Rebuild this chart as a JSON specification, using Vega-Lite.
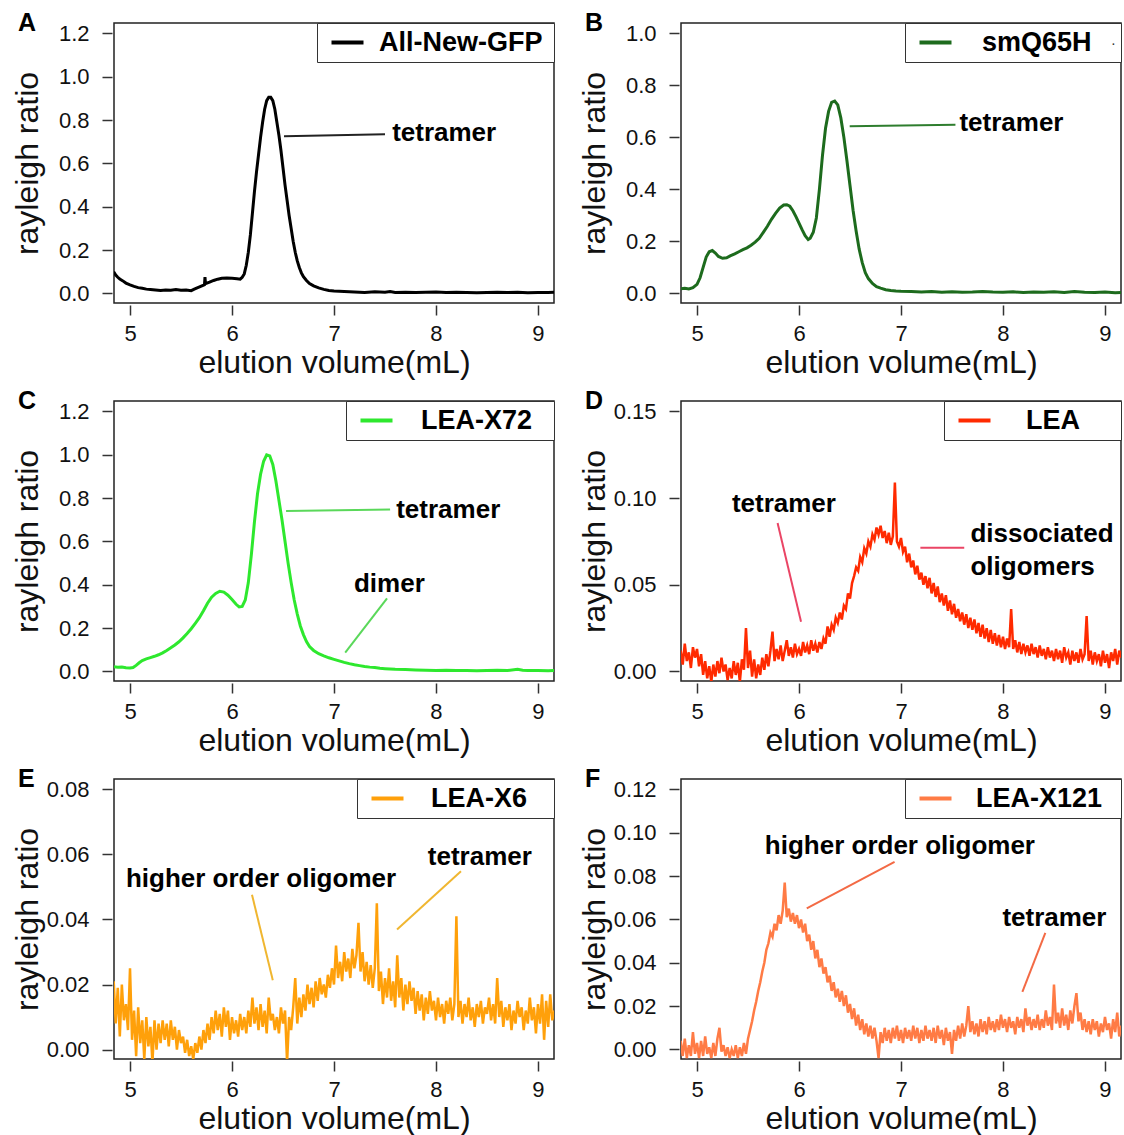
{
"$schema":"https://vega.github.io/schema/vega-lite/v6.json",
"background":"white",
"padding":{"left":10,"top":10,"right":2,"bottom":0},
"columns":2,
"spacing":{"row":98,"column":127},
"bounds":"flush",
"resolve":{"scale":{"color":"independent"},"legend":{"color":"independent"}},
"datasets":{
"A":[{"x":4.84,"y":0.100},{"x":4.86,"y":0.085},{"x":4.88,"y":0.075},{"x":4.9,"y":0.066},{"x":4.93,"y":0.058},{"x":4.96,"y":0.048},{"x":5.0,"y":0.040},{"x":5.04,"y":0.033},{"x":5.08,"y":0.027},{"x":5.12,"y":0.024},{"x":5.16,"y":0.020},{"x":5.2,"y":0.018},{"x":5.25,"y":0.016},{"x":5.3,"y":0.014},{"x":5.35,"y":0.016},{"x":5.4,"y":0.015},{"x":5.45,"y":0.018},{"x":5.5,"y":0.015},{"x":5.55,"y":0.016},{"x":5.6,"y":0.013},{"x":5.63,"y":0.020},{"x":5.67,"y":0.028},{"x":5.71,"y":0.036},{"x":5.73,"y":0.040},{"x":5.735,"y":0.075},{"x":5.74,"y":0.045},{"x":5.78,"y":0.052},{"x":5.82,"y":0.060},{"x":5.86,"y":0.066},{"x":5.9,"y":0.070},{"x":5.95,"y":0.071},{"x":6.0,"y":0.070},{"x":6.05,"y":0.068},{"x":6.08,"y":0.066},{"x":6.1,"y":0.075},{"x":6.12,"y":0.09},{"x":6.14,"y":0.13},{"x":6.16,"y":0.19},{"x":6.18,"y":0.27},{"x":6.2,"y":0.37},{"x":6.22,"y":0.47},{"x":6.24,"y":0.56},{"x":6.26,"y":0.64},{"x":6.28,"y":0.72},{"x":6.3,"y":0.79},{"x":6.32,"y":0.85},{"x":6.34,"y":0.89},{"x":6.36,"y":0.905},{"x":6.38,"y":0.905},{"x":6.4,"y":0.89},{"x":6.42,"y":0.85},{"x":6.44,"y":0.79},{"x":6.46,"y":0.73},{"x":6.48,"y":0.66},{"x":6.5,"y":0.58},{"x":6.52,"y":0.50},{"x":6.54,"y":0.43},{"x":6.56,"y":0.36},{"x":6.58,"y":0.30},{"x":6.6,"y":0.24},{"x":6.62,"y":0.19},{"x":6.64,"y":0.15},{"x":6.66,"y":0.12},{"x":6.68,"y":0.095},{"x":6.7,"y":0.078},{"x":6.73,"y":0.06},{"x":6.76,"y":0.046},{"x":6.8,"y":0.035},{"x":6.85,"y":0.026},{"x":6.9,"y":0.019},{"x":6.95,"y":0.014},{"x":7.0,"y":0.011},{"x":7.1,"y":0.009},{"x":7.2,"y":0.007},{"x":7.3,"y":0.005},{"x":7.4,"y":0.008},{"x":7.5,"y":0.006},{"x":7.55,"y":0.009},{"x":7.6,"y":0.005},{"x":7.7,"y":0.006},{"x":7.8,"y":0.004},{"x":7.9,"y":0.006},{"x":8.0,"y":0.007},{"x":8.1,"y":0.004},{"x":8.2,"y":0.006},{"x":8.3,"y":0.005},{"x":8.4,"y":0.003},{"x":8.5,"y":0.005},{"x":8.6,"y":0.006},{"x":8.7,"y":0.004},{"x":8.8,"y":0.006},{"x":8.9,"y":0.003},{"x":9.0,"y":0.005},{"x":9.1,"y":0.004},{"x":9.16,"y":0.006}],
"B":[{"x":4.84,"y":0.018},{"x":4.88,"y":0.020},{"x":4.92,"y":0.017},{"x":4.96,"y":0.022},{"x":5.0,"y":0.035},{"x":5.03,"y":0.060},{"x":5.06,"y":0.100},{"x":5.09,"y":0.140},{"x":5.12,"y":0.160},{"x":5.15,"y":0.165},{"x":5.18,"y":0.155},{"x":5.21,"y":0.142},{"x":5.25,"y":0.135},{"x":5.29,"y":0.137},{"x":5.33,"y":0.145},{"x":5.37,"y":0.152},{"x":5.41,"y":0.160},{"x":5.45,"y":0.168},{"x":5.49,"y":0.175},{"x":5.53,"y":0.185},{"x":5.57,"y":0.197},{"x":5.61,"y":0.212},{"x":5.65,"y":0.235},{"x":5.69,"y":0.258},{"x":5.73,"y":0.285},{"x":5.77,"y":0.308},{"x":5.81,"y":0.328},{"x":5.85,"y":0.340},{"x":5.88,"y":0.341},{"x":5.91,"y":0.335},{"x":5.94,"y":0.318},{"x":5.97,"y":0.295},{"x":6.0,"y":0.270},{"x":6.03,"y":0.245},{"x":6.06,"y":0.222},{"x":6.09,"y":0.207},{"x":6.11,"y":0.212},{"x":6.14,"y":0.235},{"x":6.17,"y":0.290},{"x":6.2,"y":0.400},{"x":6.23,"y":0.530},{"x":6.26,"y":0.635},{"x":6.29,"y":0.700},{"x":6.32,"y":0.735},{"x":6.35,"y":0.740},{"x":6.38,"y":0.725},{"x":6.41,"y":0.675},{"x":6.44,"y":0.600},{"x":6.47,"y":0.510},{"x":6.5,"y":0.415},{"x":6.53,"y":0.320},{"x":6.56,"y":0.240},{"x":6.59,"y":0.170},{"x":6.62,"y":0.118},{"x":6.65,"y":0.080},{"x":6.68,"y":0.057},{"x":6.72,"y":0.038},{"x":6.76,"y":0.026},{"x":6.8,"y":0.020},{"x":6.85,"y":0.014},{"x":6.9,"y":0.011},{"x":6.95,"y":0.009},{"x":7.0,"y":0.008},{"x":7.1,"y":0.007},{"x":7.2,"y":0.005},{"x":7.3,"y":0.007},{"x":7.4,"y":0.004},{"x":7.5,"y":0.006},{"x":7.6,"y":0.004},{"x":7.7,"y":0.005},{"x":7.8,"y":0.007},{"x":7.9,"y":0.005},{"x":8.0,"y":0.004},{"x":8.1,"y":0.006},{"x":8.2,"y":0.003},{"x":8.3,"y":0.005},{"x":8.4,"y":0.004},{"x":8.5,"y":0.006},{"x":8.6,"y":0.003},{"x":8.7,"y":0.007},{"x":8.8,"y":0.004},{"x":8.9,"y":0.003},{"x":9.0,"y":0.005},{"x":9.1,"y":0.002},{"x":9.16,"y":0.003}],
"C":[{"x":4.84,"y":0.022},{"x":4.88,"y":0.020},{"x":4.92,"y":0.021},{"x":4.96,"y":0.017},{"x":5.0,"y":0.016},{"x":5.03,"y":0.018},{"x":5.06,"y":0.028},{"x":5.09,"y":0.040},{"x":5.12,"y":0.050},{"x":5.16,"y":0.058},{"x":5.2,"y":0.064},{"x":5.24,"y":0.070},{"x":5.28,"y":0.077},{"x":5.32,"y":0.086},{"x":5.36,"y":0.097},{"x":5.4,"y":0.109},{"x":5.44,"y":0.122},{"x":5.48,"y":0.137},{"x":5.52,"y":0.155},{"x":5.56,"y":0.175},{"x":5.6,"y":0.197},{"x":5.64,"y":0.222},{"x":5.68,"y":0.248},{"x":5.72,"y":0.280},{"x":5.76,"y":0.315},{"x":5.8,"y":0.343},{"x":5.84,"y":0.360},{"x":5.88,"y":0.370},{"x":5.92,"y":0.366},{"x":5.96,"y":0.352},{"x":6.0,"y":0.332},{"x":6.04,"y":0.310},{"x":6.07,"y":0.298},{"x":6.1,"y":0.300},{"x":6.13,"y":0.330},{"x":6.16,"y":0.410},{"x":6.19,"y":0.540},{"x":6.22,"y":0.690},{"x":6.25,"y":0.820},{"x":6.28,"y":0.910},{"x":6.31,"y":0.970},{"x":6.34,"y":1.0},{"x":6.37,"y":0.995},{"x":6.4,"y":0.955},{"x":6.43,"y":0.880},{"x":6.46,"y":0.790},{"x":6.49,"y":0.700},{"x":6.52,"y":0.600},{"x":6.55,"y":0.500},{"x":6.58,"y":0.410},{"x":6.61,"y":0.330},{"x":6.64,"y":0.265},{"x":6.67,"y":0.210},{"x":6.7,"y":0.170},{"x":6.73,"y":0.138},{"x":6.76,"y":0.115},{"x":6.8,"y":0.097},{"x":6.85,"y":0.082},{"x":6.9,"y":0.072},{"x":6.95,"y":0.063},{"x":7.0,"y":0.056},{"x":7.05,"y":0.049},{"x":7.1,"y":0.042},{"x":7.15,"y":0.036},{"x":7.2,"y":0.031},{"x":7.25,"y":0.027},{"x":7.3,"y":0.023},{"x":7.35,"y":0.020},{"x":7.4,"y":0.018},{"x":7.45,"y":0.015},{"x":7.5,"y":0.013},{"x":7.6,"y":0.010},{"x":7.7,"y":0.009},{"x":7.8,"y":0.007},{"x":7.9,"y":0.006},{"x":8.0,"y":0.005},{"x":8.1,"y":0.006},{"x":8.2,"y":0.004},{"x":8.3,"y":0.005},{"x":8.4,"y":0.003},{"x":8.5,"y":0.005},{"x":8.6,"y":0.006},{"x":8.7,"y":0.004},{"x":8.8,"y":0.010},{"x":8.85,"y":0.006},{"x":8.9,"y":0.004},{"x":9.0,"y":0.005},{"x":9.1,"y":0.003},{"x":9.16,"y":0.004}],
"D":[{"x":4.84,"y":0.012},{"x":4.86,"y":0.004},{"x":4.88,"y":0.016},{"x":4.90,"y":0.006},{"x":4.92,"y":0.011},{"x":4.94,"y":0.002},{"x":4.96,"y":0.014},{"x":4.98,"y":0.008},{"x":5.00,"y":0.013},{"x":5.02,"y":0.003},{"x":5.04,"y":0.010},{"x":5.06,"y":-0.002},{"x":5.08,"y":0.006},{"x":5.10,"y":-0.004},{"x":5.12,"y":0.003},{"x":5.14,"y":-0.006},{"x":5.16,"y":0.004},{"x":5.18,"y":-0.003},{"x":5.20,"y":0.006},{"x":5.22,"y":-0.001},{"x":5.24,"y":0.008},{"x":5.26,"y":0.000},{"x":5.28,"y":0.004},{"x":5.30,"y":-0.005},{"x":5.32,"y":0.002},{"x":5.34,"y":-0.004},{"x":5.36,"y":0.006},{"x":5.38,"y":-0.002},{"x":5.40,"y":0.005},{"x":5.42,"y":-0.006},{"x":5.44,"y":0.007},{"x":5.46,"y":0.001},{"x":5.48,"y":0.025},{"x":5.50,"y":0.002},{"x":5.52,"y":0.012},{"x":5.54,"y":-0.003},{"x":5.56,"y":0.007},{"x":5.58,"y":-0.004},{"x":5.60,"y":0.004},{"x":5.62,"y":-0.002},{"x":5.64,"y":0.008},{"x":5.66,"y":0.001},{"x":5.68,"y":0.010},{"x":5.70,"y":0.003},{"x":5.72,"y":0.012},{"x":5.74,"y":0.023},{"x":5.76,"y":0.006},{"x":5.78,"y":0.013},{"x":5.80,"y":0.007},{"x":5.82,"y":0.015},{"x":5.84,"y":0.006},{"x":5.86,"y":0.012},{"x":5.88,"y":0.018},{"x":5.90,"y":0.009},{"x":5.92,"y":0.014},{"x":5.94,"y":0.008},{"x":5.96,"y":0.016},{"x":5.98,"y":0.010},{"x":6.00,"y":0.013},{"x":6.02,"y":0.009},{"x":6.04,"y":0.017},{"x":6.06,"y":0.011},{"x":6.08,"y":0.015},{"x":6.10,"y":0.010},{"x":6.12,"y":0.018},{"x":6.14,"y":0.012},{"x":6.16,"y":0.016},{"x":6.18,"y":0.011},{"x":6.20,"y":0.017},{"x":6.22,"y":0.013},{"x":6.24,"y":0.019},{"x":6.26,"y":0.016},{"x":6.28,"y":0.026},{"x":6.30,"y":0.020},{"x":6.32,"y":0.027},{"x":6.34,"y":0.024},{"x":6.36,"y":0.031},{"x":6.38,"y":0.028},{"x":6.40,"y":0.034},{"x":6.42,"y":0.030},{"x":6.44,"y":0.038},{"x":6.46,"y":0.036},{"x":6.48,"y":0.045},{"x":6.50,"y":0.042},{"x":6.52,"y":0.051},{"x":6.54,"y":0.055},{"x":6.56,"y":0.060},{"x":6.58,"y":0.058},{"x":6.60,"y":0.066},{"x":6.62,"y":0.063},{"x":6.64,"y":0.071},{"x":6.66,"y":0.068},{"x":6.68,"y":0.075},{"x":6.70,"y":0.072},{"x":6.72,"y":0.079},{"x":6.74,"y":0.076},{"x":6.76,"y":0.083},{"x":6.78,"y":0.079},{"x":6.80,"y":0.084},{"x":6.82,"y":0.077},{"x":6.84,"y":0.081},{"x":6.86,"y":0.074},{"x":6.88,"y":0.080},{"x":6.90,"y":0.073},{"x":6.92,"y":0.078},{"x":6.94,"y":0.109},{"x":6.96,"y":0.075},{"x":6.98,"y":0.072},{"x":7.00,"y":0.077},{"x":7.02,"y":0.069},{"x":7.04,"y":0.072},{"x":7.06,"y":0.063},{"x":7.08,"y":0.068},{"x":7.10,"y":0.060},{"x":7.12,"y":0.064},{"x":7.14,"y":0.056},{"x":7.16,"y":0.061},{"x":7.18,"y":0.053},{"x":7.20,"y":0.057},{"x":7.22,"y":0.050},{"x":7.24,"y":0.055},{"x":7.26,"y":0.048},{"x":7.28,"y":0.054},{"x":7.30,"y":0.045},{"x":7.32,"y":0.051},{"x":7.34,"y":0.043},{"x":7.36,"y":0.049},{"x":7.38,"y":0.040},{"x":7.40,"y":0.045},{"x":7.42,"y":0.038},{"x":7.44,"y":0.044},{"x":7.46,"y":0.035},{"x":7.48,"y":0.041},{"x":7.50,"y":0.033},{"x":7.52,"y":0.039},{"x":7.54,"y":0.031},{"x":7.56,"y":0.036},{"x":7.58,"y":0.029},{"x":7.60,"y":0.034},{"x":7.62,"y":0.027},{"x":7.64,"y":0.033},{"x":7.66,"y":0.025},{"x":7.68,"y":0.031},{"x":7.70,"y":0.024},{"x":7.72,"y":0.030},{"x":7.74,"y":0.022},{"x":7.76,"y":0.028},{"x":7.78,"y":0.020},{"x":7.80,"y":0.027},{"x":7.82,"y":0.019},{"x":7.84,"y":0.025},{"x":7.86,"y":0.017},{"x":7.88,"y":0.024},{"x":7.90,"y":0.016},{"x":7.92,"y":0.022},{"x":7.94,"y":0.015},{"x":7.96,"y":0.021},{"x":7.98,"y":0.014},{"x":8.00,"y":0.020},{"x":8.02,"y":0.013},{"x":8.04,"y":0.019},{"x":8.06,"y":0.014},{"x":8.08,"y":0.036},{"x":8.10,"y":0.013},{"x":8.12,"y":0.018},{"x":8.14,"y":0.011},{"x":8.16,"y":0.017},{"x":8.18,"y":0.010},{"x":8.20,"y":0.016},{"x":8.22,"y":0.011},{"x":8.24,"y":0.015},{"x":8.26,"y":0.009},{"x":8.28,"y":0.016},{"x":8.30,"y":0.010},{"x":8.32,"y":0.014},{"x":8.34,"y":0.008},{"x":8.36,"y":0.015},{"x":8.38,"y":0.009},{"x":8.40,"y":0.013},{"x":8.42,"y":0.007},{"x":8.44,"y":0.014},{"x":8.46,"y":0.008},{"x":8.48,"y":0.012},{"x":8.50,"y":0.006},{"x":8.52,"y":0.013},{"x":8.54,"y":0.007},{"x":8.56,"y":0.012},{"x":8.58,"y":0.005},{"x":8.60,"y":0.014},{"x":8.62,"y":0.008},{"x":8.64,"y":0.011},{"x":8.66,"y":0.004},{"x":8.68,"y":0.012},{"x":8.70,"y":0.006},{"x":8.72,"y":0.011},{"x":8.74,"y":0.005},{"x":8.76,"y":0.013},{"x":8.78,"y":0.007},{"x":8.80,"y":0.010},{"x":8.82,"y":0.032},{"x":8.84,"y":0.006},{"x":8.86,"y":0.012},{"x":8.88,"y":0.004},{"x":8.90,"y":0.011},{"x":8.92,"y":0.006},{"x":8.94,"y":0.010},{"x":8.96,"y":0.003},{"x":8.98,"y":0.012},{"x":9.00,"y":0.005},{"x":9.02,"y":0.010},{"x":9.04,"y":0.002},{"x":9.06,"y":0.011},{"x":9.08,"y":0.006},{"x":9.10,"y":0.013},{"x":9.12,"y":0.004},{"x":9.14,"y":0.012},{"x":9.16,"y":0.008}],
"E":[{"x":4.84,"y":0.021},{"x":4.86,"y":0.008},{"x":4.88,"y":0.019},{"x":4.90,"y":0.004},{"x":4.92,"y":0.020},{"x":4.94,"y":0.009},{"x":4.96,"y":0.014},{"x":4.98,"y":0.006},{"x":5.00,"y":0.025},{"x":5.02,"y":0.003},{"x":5.04,"y":0.012},{"x":5.06,"y":-0.002},{"x":5.08,"y":0.013},{"x":5.10,"y":0.002},{"x":5.12,"y":0.009},{"x":5.14,"y":-0.003},{"x":5.16,"y":0.010},{"x":5.18,"y":0.001},{"x":5.20,"y":0.007},{"x":5.22,"y":-0.004},{"x":5.24,"y":0.009},{"x":5.26,"y":0.000},{"x":5.28,"y":0.008},{"x":5.30,"y":0.002},{"x":5.32,"y":0.009},{"x":5.34,"y":0.003},{"x":5.36,"y":0.008},{"x":5.38,"y":0.001},{"x":5.40,"y":0.009},{"x":5.42,"y":0.003},{"x":5.44,"y":0.007},{"x":5.46,"y":0.000},{"x":5.48,"y":0.006},{"x":5.50,"y":0.002},{"x":5.52,"y":0.004},{"x":5.54,"y":-0.001},{"x":5.56,"y":0.003},{"x":5.58,"y":-0.002},{"x":5.60,"y":0.001},{"x":5.62,"y":-0.003},{"x":5.64,"y":0.002},{"x":5.66,"y":-0.001},{"x":5.68,"y":0.004},{"x":5.70,"y":0.000},{"x":5.72,"y":0.006},{"x":5.74,"y":0.002},{"x":5.76,"y":0.008},{"x":5.78,"y":0.003},{"x":5.80,"y":0.010},{"x":5.82,"y":0.005},{"x":5.84,"y":0.012},{"x":5.86,"y":0.006},{"x":5.88,"y":0.011},{"x":5.90,"y":0.004},{"x":5.92,"y":0.013},{"x":5.94,"y":0.007},{"x":5.96,"y":0.012},{"x":5.98,"y":0.003},{"x":6.00,"y":0.010},{"x":6.02,"y":0.005},{"x":6.04,"y":0.009},{"x":6.06,"y":0.004},{"x":6.08,"y":0.011},{"x":6.10,"y":0.006},{"x":6.12,"y":0.010},{"x":6.14,"y":0.005},{"x":6.16,"y":0.012},{"x":6.18,"y":0.007},{"x":6.20,"y":0.016},{"x":6.22,"y":0.008},{"x":6.24,"y":0.013},{"x":6.26,"y":0.006},{"x":6.28,"y":0.014},{"x":6.30,"y":0.007},{"x":6.32,"y":0.012},{"x":6.34,"y":0.005},{"x":6.36,"y":0.016},{"x":6.38,"y":0.009},{"x":6.40,"y":0.011},{"x":6.42,"y":0.006},{"x":6.44,"y":0.010},{"x":6.46,"y":0.005},{"x":6.48,"y":0.013},{"x":6.50,"y":0.008},{"x":6.52,"y":0.012},{"x":6.54,"y":-0.004},{"x":6.56,"y":0.010},{"x":6.58,"y":0.006},{"x":6.60,"y":0.013},{"x":6.62,"y":0.022},{"x":6.64,"y":0.008},{"x":6.66,"y":0.016},{"x":6.68,"y":0.010},{"x":6.70,"y":0.017},{"x":6.72,"y":0.012},{"x":6.74,"y":0.020},{"x":6.76,"y":0.014},{"x":6.78,"y":0.019},{"x":6.80,"y":0.013},{"x":6.82,"y":0.021},{"x":6.84,"y":0.015},{"x":6.86,"y":0.022},{"x":6.88,"y":0.017},{"x":6.90,"y":0.020},{"x":6.92,"y":0.016},{"x":6.94,"y":0.023},{"x":6.96,"y":0.019},{"x":6.98,"y":0.025},{"x":7.00,"y":0.020},{"x":7.02,"y":0.032},{"x":7.04,"y":0.022},{"x":7.06,"y":0.027},{"x":7.08,"y":0.021},{"x":7.10,"y":0.030},{"x":7.12,"y":0.024},{"x":7.14,"y":0.028},{"x":7.16,"y":0.022},{"x":7.18,"y":0.031},{"x":7.20,"y":0.025},{"x":7.22,"y":0.029},{"x":7.24,"y":0.039},{"x":7.26,"y":0.024},{"x":7.28,"y":0.030},{"x":7.30,"y":0.021},{"x":7.32,"y":0.027},{"x":7.34,"y":0.020},{"x":7.36,"y":0.026},{"x":7.38,"y":0.019},{"x":7.40,"y":0.025},{"x":7.42,"y":0.045},{"x":7.44,"y":0.018},{"x":7.46,"y":0.024},{"x":7.48,"y":0.014},{"x":7.50,"y":0.022},{"x":7.52,"y":0.016},{"x":7.54,"y":0.025},{"x":7.56,"y":0.015},{"x":7.58,"y":0.021},{"x":7.60,"y":0.013},{"x":7.62,"y":0.029},{"x":7.64,"y":0.016},{"x":7.66,"y":0.022},{"x":7.68,"y":0.012},{"x":7.70,"y":0.020},{"x":7.72,"y":0.014},{"x":7.74,"y":0.021},{"x":7.76,"y":0.015},{"x":7.78,"y":0.019},{"x":7.80,"y":0.011},{"x":7.82,"y":0.018},{"x":7.84,"y":0.012},{"x":7.86,"y":0.017},{"x":7.88,"y":0.009},{"x":7.90,"y":0.016},{"x":7.92,"y":0.011},{"x":7.94,"y":0.018},{"x":7.96,"y":0.012},{"x":7.98,"y":0.015},{"x":8.00,"y":0.009},{"x":8.02,"y":0.016},{"x":8.04,"y":0.010},{"x":8.06,"y":0.014},{"x":8.08,"y":0.008},{"x":8.10,"y":0.015},{"x":8.12,"y":0.011},{"x":8.14,"y":0.016},{"x":8.16,"y":0.009},{"x":8.18,"y":0.014},{"x":8.20,"y":0.041},{"x":8.22,"y":0.010},{"x":8.24,"y":0.015},{"x":8.26,"y":0.008},{"x":8.28,"y":0.014},{"x":8.30,"y":0.010},{"x":8.32,"y":0.016},{"x":8.34,"y":0.009},{"x":8.36,"y":0.013},{"x":8.38,"y":0.007},{"x":8.40,"y":0.014},{"x":8.42,"y":0.010},{"x":8.44,"y":0.015},{"x":8.46,"y":0.008},{"x":8.48,"y":0.013},{"x":8.50,"y":0.011},{"x":8.52,"y":0.016},{"x":8.54,"y":0.009},{"x":8.56,"y":0.014},{"x":8.58,"y":0.008},{"x":8.60,"y":0.022},{"x":8.62,"y":0.010},{"x":8.64,"y":0.015},{"x":8.66,"y":0.007},{"x":8.68,"y":0.013},{"x":8.70,"y":0.009},{"x":8.72,"y":0.014},{"x":8.74,"y":0.006},{"x":8.76,"y":0.012},{"x":8.78,"y":0.008},{"x":8.80,"y":0.015},{"x":8.82,"y":0.010},{"x":8.84,"y":0.013},{"x":8.86,"y":0.006},{"x":8.88,"y":0.012},{"x":8.90,"y":0.008},{"x":8.92,"y":0.016},{"x":8.94,"y":0.009},{"x":8.96,"y":0.013},{"x":8.98,"y":0.005},{"x":9.00,"y":0.014},{"x":9.02,"y":0.008},{"x":9.04,"y":0.017},{"x":9.06,"y":0.003},{"x":9.08,"y":0.015},{"x":9.10,"y":0.007},{"x":9.12,"y":0.017},{"x":9.14,"y":0.009},{"x":9.16,"y":0.012}],
"F":[{"x":4.84,"y":0.004},{"x":4.86,"y":-0.003},{"x":4.88,"y":0.005},{"x":4.90,"y":-0.004},{"x":4.92,"y":0.002},{"x":4.94,"y":-0.003},{"x":4.96,"y":0.008},{"x":4.98,"y":-0.002},{"x":5.00,"y":0.003},{"x":5.02,"y":-0.004},{"x":5.04,"y":0.004},{"x":5.06,"y":-0.003},{"x":5.08,"y":0.006},{"x":5.10,"y":-0.002},{"x":5.12,"y":0.001},{"x":5.14,"y":-0.004},{"x":5.16,"y":0.003},{"x":5.18,"y":-0.003},{"x":5.20,"y":0.005},{"x":5.22,"y":0.010},{"x":5.24,"y":-0.001},{"x":5.26,"y":0.002},{"x":5.28,"y":-0.003},{"x":5.30,"y":0.001},{"x":5.32,"y":-0.004},{"x":5.34,"y":0.000},{"x":5.36,"y":-0.003},{"x":5.38,"y":0.002},{"x":5.40,"y":-0.004},{"x":5.42,"y":0.001},{"x":5.44,"y":-0.003},{"x":5.46,"y":0.003},{"x":5.48,"y":-0.002},{"x":5.50,"y":0.005},{"x":5.52,"y":0.009},{"x":5.54,"y":0.013},{"x":5.56,"y":0.018},{"x":5.58,"y":0.022},{"x":5.60,"y":0.027},{"x":5.62,"y":0.031},{"x":5.64,"y":0.036},{"x":5.66,"y":0.040},{"x":5.68,"y":0.046},{"x":5.70,"y":0.049},{"x":5.72,"y":0.054},{"x":5.74,"y":0.052},{"x":5.76,"y":0.058},{"x":5.78,"y":0.055},{"x":5.80,"y":0.062},{"x":5.82,"y":0.058},{"x":5.84,"y":0.064},{"x":5.86,"y":0.077},{"x":5.88,"y":0.061},{"x":5.90,"y":0.065},{"x":5.92,"y":0.059},{"x":5.94,"y":0.063},{"x":5.96,"y":0.058},{"x":5.98,"y":0.062},{"x":6.00,"y":0.056},{"x":6.02,"y":0.060},{"x":6.04,"y":0.054},{"x":6.06,"y":0.058},{"x":6.08,"y":0.050},{"x":6.10,"y":0.053},{"x":6.12,"y":0.046},{"x":6.14,"y":0.050},{"x":6.16,"y":0.042},{"x":6.18,"y":0.046},{"x":6.20,"y":0.038},{"x":6.22,"y":0.042},{"x":6.24,"y":0.035},{"x":6.26,"y":0.038},{"x":6.28,"y":0.031},{"x":6.30,"y":0.034},{"x":6.32,"y":0.027},{"x":6.34,"y":0.031},{"x":6.36,"y":0.024},{"x":6.38,"y":0.028},{"x":6.40,"y":0.022},{"x":6.42,"y":0.027},{"x":6.44,"y":0.020},{"x":6.46,"y":0.025},{"x":6.48,"y":0.017},{"x":6.50,"y":0.021},{"x":6.52,"y":0.014},{"x":6.54,"y":0.019},{"x":6.56,"y":0.011},{"x":6.58,"y":0.016},{"x":6.60,"y":0.009},{"x":6.62,"y":0.014},{"x":6.64,"y":0.007},{"x":6.66,"y":0.012},{"x":6.68,"y":0.006},{"x":6.70,"y":0.011},{"x":6.72,"y":0.005},{"x":6.74,"y":0.010},{"x":6.76,"y":0.004},{"x":6.78,"y":-0.004},{"x":6.80,"y":0.008},{"x":6.82,"y":0.003},{"x":6.84,"y":0.010},{"x":6.86,"y":0.004},{"x":6.88,"y":0.009},{"x":6.90,"y":0.003},{"x":6.92,"y":0.010},{"x":6.94,"y":0.005},{"x":6.96,"y":0.011},{"x":6.98,"y":0.004},{"x":7.00,"y":0.009},{"x":7.02,"y":0.003},{"x":7.04,"y":0.010},{"x":7.06,"y":0.005},{"x":7.08,"y":0.009},{"x":7.10,"y":0.004},{"x":7.12,"y":0.011},{"x":7.14,"y":0.005},{"x":7.16,"y":0.010},{"x":7.18,"y":0.003},{"x":7.20,"y":0.009},{"x":7.22,"y":0.004},{"x":7.24,"y":0.011},{"x":7.26,"y":0.005},{"x":7.28,"y":0.009},{"x":7.30,"y":0.004},{"x":7.32,"y":0.010},{"x":7.34,"y":0.003},{"x":7.36,"y":0.011},{"x":7.38,"y":0.005},{"x":7.40,"y":0.009},{"x":7.42,"y":0.002},{"x":7.44,"y":0.010},{"x":7.46,"y":0.004},{"x":7.48,"y":0.008},{"x":7.50,"y":-0.002},{"x":7.52,"y":0.009},{"x":7.54,"y":0.004},{"x":7.56,"y":0.011},{"x":7.58,"y":0.005},{"x":7.60,"y":0.012},{"x":7.62,"y":0.006},{"x":7.64,"y":0.011},{"x":7.66,"y":0.020},{"x":7.68,"y":0.008},{"x":7.70,"y":0.013},{"x":7.72,"y":0.007},{"x":7.74,"y":0.012},{"x":7.76,"y":0.006},{"x":7.78,"y":0.014},{"x":7.80,"y":0.008},{"x":7.82,"y":0.013},{"x":7.84,"y":0.007},{"x":7.86,"y":0.015},{"x":7.88,"y":0.009},{"x":7.90,"y":0.013},{"x":7.92,"y":0.008},{"x":7.94,"y":0.014},{"x":7.96,"y":0.009},{"x":7.98,"y":0.016},{"x":8.00,"y":0.010},{"x":8.02,"y":0.014},{"x":8.04,"y":0.008},{"x":8.06,"y":0.015},{"x":8.08,"y":0.010},{"x":8.10,"y":0.013},{"x":8.12,"y":0.007},{"x":8.14,"y":0.015},{"x":8.16,"y":0.010},{"x":8.18,"y":0.014},{"x":8.20,"y":0.008},{"x":8.22,"y":0.019},{"x":8.24,"y":0.011},{"x":8.26,"y":0.015},{"x":8.28,"y":0.009},{"x":8.30,"y":0.014},{"x":8.32,"y":0.010},{"x":8.34,"y":0.016},{"x":8.36,"y":0.009},{"x":8.38,"y":0.014},{"x":8.40,"y":0.010},{"x":8.42,"y":0.018},{"x":8.44,"y":0.011},{"x":8.46,"y":0.015},{"x":8.48,"y":0.009},{"x":8.50,"y":0.030},{"x":8.52,"y":0.012},{"x":8.54,"y":0.017},{"x":8.56,"y":0.010},{"x":8.58,"y":0.019},{"x":8.60,"y":0.011},{"x":8.62,"y":0.016},{"x":8.64,"y":0.009},{"x":8.66,"y":0.018},{"x":8.68,"y":0.012},{"x":8.70,"y":0.020},{"x":8.72,"y":0.026},{"x":8.74,"y":0.013},{"x":8.76,"y":0.017},{"x":8.78,"y":0.009},{"x":8.80,"y":0.014},{"x":8.82,"y":0.008},{"x":8.84,"y":0.013},{"x":8.86,"y":0.007},{"x":8.88,"y":0.014},{"x":8.90,"y":0.009},{"x":8.92,"y":0.013},{"x":8.94,"y":0.006},{"x":8.96,"y":0.012},{"x":8.98,"y":0.008},{"x":9.00,"y":0.015},{"x":9.02,"y":0.009},{"x":9.04,"y":0.012},{"x":9.06,"y":0.005},{"x":9.08,"y":0.014},{"x":9.10,"y":0.008},{"x":9.12,"y":0.017},{"x":9.14,"y":0.006},{"x":9.16,"y":0.011}],
"A_lines":[{"x":6.51,"y":0.726,"x2":7.5,"y2":0.735}],
"A_text":[{"x":7.57,"y":0.74,"text":"tetramer"}],
"B_lines":[{"x":6.497,"y":0.643,"x2":7.534,"y2":0.649}],
"B_text":[{"x":7.573,"y":0.655,"text":"tetramer"}],
"C_lines":[{"x":6.53,"y":0.74,"x2":7.55,"y2":0.747},{"x":7.52,"y":0.337,"x2":7.11,"y2":0.087}],
"C_text":[{"x":7.61,"y":0.747,"text":"tetramer"},{"x":7.196,"y":0.403,"text":"dimer"}],
"D_lines":[{"x":5.79,"y":0.0856,"x2":6.02,"y2":0.0287},{"x":7.19,"y":0.0713,"x2":7.62,"y2":0.0713}],
"D_text":[{"x":5.342,"y":0.0964,"text":"tetramer"},{"x":7.681,"y":0.0791,"text":"dissociated"},{"x":7.681,"y":0.06,"text":"oligomers"}],
"E_lines":[{"x":6.196,"y":0.0476,"x2":6.40,"y2":0.0213},{"x":8.245,"y":0.0548,"x2":7.618,"y2":0.0369}],
"E_text":[{"x":4.96,"y":0.0523,"text":"higher order oligomer"},{"x":7.92,"y":0.0592,"text":"tetramer"}],
"F_lines":[{"x":6.937,"y":0.0866,"x2":6.076,"y2":0.0651},{"x":8.415,"y":0.0538,"x2":8.19,"y2":0.0266}],
"F_text":[{"x":5.665,"y":0.0938,"text":"higher order oligomer"},{"x":7.994,"y":0.0605,"text":"tetramer"}]
},
"concat":[
{"width":440,"height":280,"title":{"text":"A"},
 "encoding":{
  "x":{"field":"x","type":"quantitative","scale":{"domain":[4.843,9.157],"nice":false,"zero":false},"axis":{"title":"elution volume(mL)","values":[5,6,7,8,9],"format":"d"}},
  "y":{"field":"y","type":"quantitative","scale":{"domain":[-0.044,1.248],"nice":false,"zero":false},"axis":{"title":"rayleigh ratio","values":[0,0.2,0.4,0.6,0.8,1,1.2],"format":".1f"}}},
 "layer":[
  {"data":{"name":"A"},"mark":{"type":"line","strokeWidth":3,"clip":true},"encoding":{"color":{"datum":"All-New-GFP","type":"nominal","scale":{"range":["#000000"]},"legend":{"title":".","titleOpacity":0,"labelOffset":18,"titlePadding":2}}}},
  {"data":{"name":"A_lines"},"mark":{"type":"rule","color":"#222222","strokeWidth":2},"encoding":{"x2":{"field":"x2"},"y2":{"field":"y2"}}},
  {"data":{"name":"A_text"},"mark":{"type":"text","align":"left","baseline":"middle","fontSize":26,"fontWeight":"bold","color":"#000000"},"encoding":{"text":{"field":"text"}}}
 ]},
{"width":440,"height":280,"title":{"text":"B"},
 "encoding":{
  "x":{"field":"x","type":"quantitative","scale":{"domain":[4.843,9.157],"nice":false,"zero":false},"axis":{"title":"elution volume(mL)","values":[5,6,7,8,9],"format":"d"}},
  "y":{"field":"y","type":"quantitative","scale":{"domain":[-0.037,1.04],"nice":false,"zero":false},"axis":{"title":"rayleigh ratio","values":[0,0.2,0.4,0.6,0.8,1],"format":".1f"}}},
 "layer":[
  {"data":{"name":"B"},"mark":{"type":"line","strokeWidth":3,"clip":true},"encoding":{"color":{"datum":"smQ65H","type":"nominal","scale":{"range":["#1d6b1d"]},"legend":{"title":".","titleOpacity":1,"labelOffset":33,"titlePadding":20}}}},
  {"data":{"name":"B_lines"},"mark":{"type":"rule","color":"#2e7d2e","strokeWidth":2},"encoding":{"x2":{"field":"x2"},"y2":{"field":"y2"}}},
  {"data":{"name":"B_text"},"mark":{"type":"text","align":"left","baseline":"middle","fontSize":26,"fontWeight":"bold","color":"#000000"},"encoding":{"text":{"field":"text"}}}
 ]},
{"width":440,"height":280,"title":{"text":"C"},
 "encoding":{
  "x":{"field":"x","type":"quantitative","scale":{"domain":[4.843,9.157],"nice":false,"zero":false},"axis":{"title":"elution volume(mL)","values":[5,6,7,8,9],"format":"d"}},
  "y":{"field":"y","type":"quantitative","scale":{"domain":[-0.044,1.248],"nice":false,"zero":false},"axis":{"title":"rayleigh ratio","values":[0,0.2,0.4,0.6,0.8,1,1.2],"format":".1f"}}},
 "layer":[
  {"data":{"name":"C"},"mark":{"type":"line","strokeWidth":3,"clip":true},"encoding":{"color":{"datum":"LEA-X72","type":"nominal","scale":{"range":["#2ee82e"]},"legend":{"title":".","titleOpacity":0,"labelOffset":31,"titlePadding":13}}}},
  {"data":{"name":"C_lines"},"mark":{"type":"rule","color":"#5ad85a","strokeWidth":2},"encoding":{"x2":{"field":"x2"},"y2":{"field":"y2"}}},
  {"data":{"name":"C_text"},"mark":{"type":"text","align":"left","baseline":"middle","fontSize":26,"fontWeight":"bold","color":"#000000"},"encoding":{"text":{"field":"text"}}}
 ]},
{"width":440,"height":280,"title":{"text":"D"},
 "encoding":{
  "x":{"field":"x","type":"quantitative","scale":{"domain":[4.843,9.157],"nice":false,"zero":false},"axis":{"title":"elution volume(mL)","values":[5,6,7,8,9],"format":"d"}},
  "y":{"field":"y","type":"quantitative","scale":{"domain":[-0.0055,0.156],"nice":false,"zero":false},"axis":{"title":"rayleigh ratio","values":[0,0.05,0.1,0.15],"format":".2f"}}},
 "layer":[
  {"data":{"name":"D"},"mark":{"type":"line","strokeWidth":2.5,"clip":true},"encoding":{"color":{"datum":"LEA","type":"nominal","scale":{"range":["#ff2a00"]},"legend":{"title":".","titleOpacity":0,"labelOffset":38,"titlePadding":32}}}},
  {"data":{"name":"D_lines"},"mark":{"type":"rule","color":"#ea4565","strokeWidth":2},"encoding":{"x2":{"field":"x2"},"y2":{"field":"y2"}}},
  {"data":{"name":"D_text"},"mark":{"type":"text","align":"left","baseline":"middle","fontSize":26,"fontWeight":"bold","color":"#000000"},"encoding":{"text":{"field":"text"}}}
 ]},
{"width":440,"height":280,"title":{"text":"E"},
 "encoding":{
  "x":{"field":"x","type":"quantitative","scale":{"domain":[4.843,9.157],"nice":false,"zero":false},"axis":{"title":"elution volume(mL)","values":[5,6,7,8,9],"format":"d"}},
  "y":{"field":"y","type":"quantitative","scale":{"domain":[-0.0029,0.0832],"nice":false,"zero":false},"axis":{"title":"rayleigh ratio","values":[0,0.02,0.04,0.06,0.08],"format":".2f"}}},
 "layer":[
  {"data":{"name":"E"},"mark":{"type":"line","strokeWidth":2.5,"clip":true},"encoding":{"color":{"datum":"LEA-X6","type":"nominal","scale":{"range":["#ffa00a"]},"legend":{"title":".","titleOpacity":0,"labelOffset":30,"titlePadding":18}}}},
  {"data":{"name":"E_lines"},"mark":{"type":"rule","color":"#f0b630","strokeWidth":2},"encoding":{"x2":{"field":"x2"},"y2":{"field":"y2"}}},
  {"data":{"name":"E_text"},"mark":{"type":"text","align":"left","baseline":"middle","fontSize":26,"fontWeight":"bold","color":"#000000"},"encoding":{"text":{"field":"text"}}}
 ]},
{"width":440,"height":280,"title":{"text":"F"},
 "encoding":{
  "x":{"field":"x","type":"quantitative","scale":{"domain":[4.843,9.157],"nice":false,"zero":false},"axis":{"title":"elution volume(mL)","values":[5,6,7,8,9],"format":"d"}},
  "y":{"field":"y","type":"quantitative","scale":{"domain":[-0.0044,0.1248],"nice":false,"zero":false},"axis":{"title":"rayleigh ratio","values":[0,0.02,0.04,0.06,0.08,0.1,0.12],"format":".2f"}}},
 "layer":[
  {"data":{"name":"F"},"mark":{"type":"line","strokeWidth":2.5,"clip":true},"encoding":{"color":{"datum":"LEA-X121","type":"nominal","scale":{"range":["#ff7b45"]},"legend":{"title":".","titleOpacity":0,"labelOffset":27,"titlePadding":10}}}},
  {"data":{"name":"F_lines"},"mark":{"type":"rule","color":"#f36a45","strokeWidth":2},"encoding":{"x2":{"field":"x2"},"y2":{"field":"y2"}}},
  {"data":{"name":"F_text"},"mark":{"type":"text","align":"left","baseline":"middle","fontSize":26,"fontWeight":"bold","color":"#000000"},"encoding":{"text":{"field":"text"}}}
 ]}
],
"config":{
 "font":"Liberation Sans",
 "view":{"stroke":"#222222","strokeWidth":1.5},
 "axis":{"domain":false,"grid":false,"tickSize":10,"tickColor":"#333333","tickWidth":1.5,"offset":2,"labelFontSize":22,"labelColor":"#111111","titleFontSize":32,"titleFontWeight":"normal","titleColor":"#111111","labelFont":"Liberation Sans","titleFont":"Liberation Sans","labelFlush":false,"labelOverlap":false,"labelBound":false,"titleBaseline":"alphabetic"},
 "axisX":{"labelPadding":8,"titleY":67,"titleX":220},
 "axisY":{"labelPadding":13,"titleX":-75,"titleY":140},
 "legend":{"orient":"top-right","offset":0,"padding":6,"strokeColor":"#333333","fillColor":"#ffffff","symbolType":"M-2,0H2","symbolSize":256,"symbolStrokeWidth":4,"symbolOffset":11,"labelFontSize":27,"labelFontWeight":"bold","labelFont":"Liberation Sans","labelColor":"#000000","labelLimit":400,"titleOrient":"right","titleFontSize":10,"titleColor":"#333333","titleFontWeight":"bold"},
 "title":{"anchor":"start","frame":"group","fontSize":25,"fontWeight":"bold","offset":0,"dx":-96,"dy":18,"baseline":"alphabetic","color":"#000000","font":"Liberation Sans"}
}
}
